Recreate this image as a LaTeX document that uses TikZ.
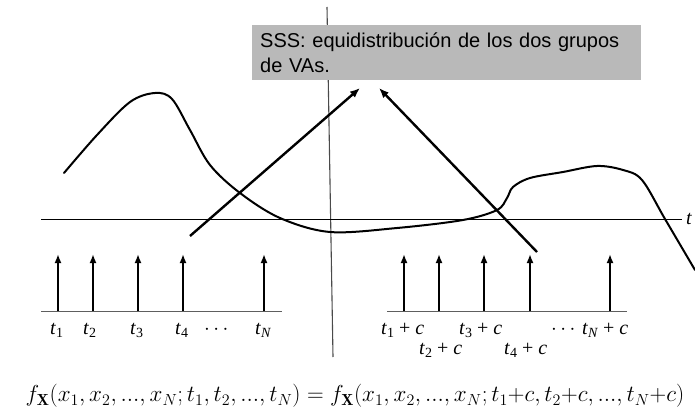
\documentclass[tikz,border=0pt]{standalone}
\usepackage{amsmath,amssymb,bm}
\usepackage{xcolor}
\usepackage{fontspec}
\newfontfamily\tmsfont{Liberation Serif}
\newfontfamily\arlfont{Liberation Sans}
\usepackage{tikz}
\usetikzlibrary{arrows.meta,positioning,calc}
\definecolor{cBox}{HTML}{B9B9B9}
\definecolor{cLine}{HTML}{4A4A4A}
\definecolor{cBase}{HTML}{5E5E5E}

\newcommand{\tv}[1]{\textit{t}\raisebox{-0.42ex}{\fontsize{14}{14}\selectfont #1}}
\newcommand{\tc}[1]{\tv{#1} + \textit{c}}

\begin{document}
\begin{tikzpicture}[
    x=1pt, y=-1pt,
    imp/.style={-{Latex[length=9pt,width=7pt]}, line width=2.6pt},
    big/.style={-{Latex[length=10pt,width=8pt]}, line width=2.4pt},
    base/.style={draw=cBase, line width=1pt},
    lab/.style={font=\tmsfont\fontsize{20}{23}\selectfont, inner sep=0pt, anchor=base west},
    note/.style={fill=cBox, anchor=north west, minimum width=389pt, minimum height=55pt,
      text width=373pt, inner xsep=8pt, align=left,
      font=\arlfont\fontsize{20}{25}\selectfont}]

    \useasboundingbox (0,0) rectangle (695,414);

    % splitting line and time axis
    \coordinate (vtop) at (327,7);
    \coordinate (vbot) at (333,357);
    \draw[cLine, line width=1.1pt] (vtop) -- (vbot);
    \coordinate (ax0) at (41,219);
    \coordinate (ax1) at (682,219);
    \draw[line width=0.9pt] (ax0) -- (ax1);
    \node[lab, anchor=west] (tlab) at (686,219) {\textit{t}};

    % sample path
    \draw[line width=2pt, line cap=round] plot[smooth, tension=0.55] coordinates {
      (64,173) (97,135) (130,102) (155,93) (172,99) (190,130) (210,165)
      (240,193) (280,218) (330,232) (397,228) (463,220) (497,210)
      (507,198) (513,187) (530,178) (563,172) (597,166) (623,170)
      (642,180) (665,219) (695,270)};

    \node[note] (sss) at (252,25) {SSS: equidistribución de los dos grupos\\de VAs.};

    % impulse trains
    \coordinate (bl0) at (41,311);
    \coordinate (bl1) at (282,311);
    \coordinate (br0) at (387,311);
    \coordinate (br1) at (627,311);
    \draw[base] (bl0) -- (bl1);
    \draw[base] (br0) -- (br1);
    \foreach \x [count=\i] in {58,93,138,183,264} {
      \coordinate (l\i) at (\x,311);
      \draw[imp] (l\i) -- ++(0,-57);
    }
    \foreach \x [count=\i] in {404,439,484,530,610} {
      \coordinate (r\i) at (\x,311);
      \draw[imp] (r\i) -- ++(0,-57);
    }

    % labels
    \node[lab] (t1) at (50,334) {\tv{1}};
    \node[lab] (t2) at (83,334) {\tv{2}};
    \node[lab] (t3) at (130,334) {\tv{3}};
    \node[lab] (t4) at (175,334) {\tv{4}};
    \node[lab] (dl) at (204,334) {$\cdots$};
    \node[lab] (tN) at (255,334) {\tv{\textit{N}}};

    \node[lab] (c1) at (381,334) {\tc{1}};
    \node[lab] (c2) at (419,354) {\tc{2}};
    \node[lab] (c3) at (459,334) {\tc{3}};
    \node[lab] (c4) at (504,354) {\tc{4}};
    \node[lab] (dr) at (551,334) {$\cdots$};
    \node[lab] (cN) at (582,334) {\tc{\textit{N}}};

    % arrows to the note
    \coordinate (fromL) at (190,236);
    \coordinate (toL) at (360,88);
    \coordinate (fromR) at (537,252);
    \coordinate (toR) at (379,88);
    \draw[big] (fromL) -- (toL);
    \draw[big] (fromR) -- (toR);

    \node[font=\fontsize{20.74}{25}\selectfont, inner sep=0pt] (eq) at (355,396)
      {\scalebox{1.115}{$f_{\mathbf{X}}(x_1,x_2,...,x_N;t_1,t_2,...,t_N)=f_{\mathbf{X}}(x_1,x_2,...,x_N;t_1{+}c,t_2{+}c,...,t_N{+}c)$}};
\end{tikzpicture}
\end{document}
